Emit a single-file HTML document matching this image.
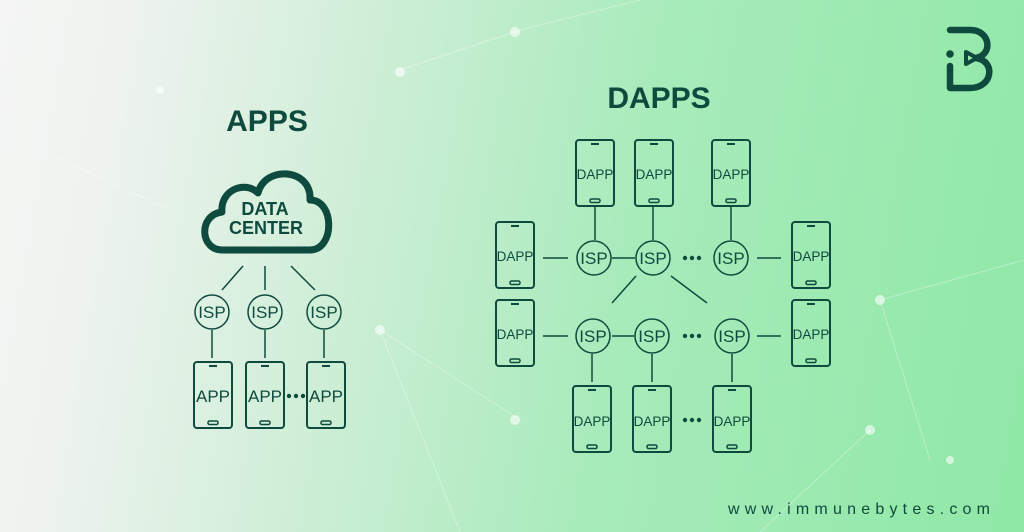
<!DOCTYPE html>
<html><head><meta charset="utf-8"><style>
html,body{margin:0;padding:0;width:1024px;height:532px;overflow:hidden}
body{background:linear-gradient(100deg,#f4f5f4 0%,#eef3ef 12%,#cdeed6 35%,#a8ebbb 60%,#8fe8a6 100%)}
svg{position:absolute;left:0;top:0}
text{font-family:"Liberation Sans",sans-serif;fill:#0f4a3e}
</style></head><body>
<svg width="1024" height="532" viewBox="0 0 1024 532">
<defs>
<g id="ph"><rect x="0" y="0" width="38" height="66" rx="3" fill="none" stroke="#0f4a3e" stroke-width="2"/><line x1="15" y1="4" x2="23" y2="4" stroke="#0f4a3e" stroke-width="2"/><rect x="14" y="59" width="10" height="3.5" rx="1.5" fill="none" stroke="#0f4a3e" stroke-width="1.5"/></g>
</defs>
<g stroke="#ffffff" stroke-opacity="0.35" stroke-width="1" fill="none">
<line x1="380" y1="330" x2="520" y2="420"/><line x1="380" y1="330" x2="460" y2="532"/><line x1="880" y1="300" x2="1024" y2="260"/><line x1="880" y1="300" x2="930" y2="460"/><line x1="520" y1="30" x2="640" y2="0"/><line x1="520" y1="30" x2="400" y2="70"/><line x1="870" y1="430" x2="760" y2="532"/><line x1="20" y1="140" x2="170" y2="210"/>
</g>
<g fill="#ffffff" fill-opacity="0.6"><circle cx="380" cy="330" r="5"/><circle cx="515" cy="32" r="5"/><circle cx="880" cy="300" r="5"/><circle cx="870" cy="430" r="5"/><circle cx="400" cy="72" r="5"/><circle cx="160" cy="90" r="4"/><circle cx="950" cy="460" r="4"/><circle cx="515" cy="420" r="5"/></g>
<text x="267" y="131" font-size="30" font-weight="bold" text-anchor="middle">APPS</text>
<text x="659" y="108" font-size="30" font-weight="bold" text-anchor="middle">DAPPS</text>
<path d="M222 250 C200 250 198 215 222 212 C220 190 245 180 258 193 C265 165 312 168 310 200 C335 200 335 250 310 250 Z" fill="none" stroke="#0f4a3e" stroke-width="7" stroke-linejoin="round"/>
<text x="265" y="215" font-size="18" font-weight="bold" text-anchor="middle">DATA</text>
<text x="266" y="234" font-size="18" font-weight="bold" text-anchor="middle">CENTER</text>
<g stroke="#0f4a3e" stroke-width="1.5" fill="none">
<line x1="243" y1="266" x2="222" y2="290"/><line x1="265" y1="266" x2="265" y2="290"/><line x1="291" y1="266" x2="315" y2="290"/>
<line x1="212" y1="330" x2="212" y2="358"/><line x1="265" y1="330" x2="265" y2="358"/><line x1="324" y1="330" x2="324" y2="358"/>
<circle cx="212" cy="312" r="17"/><circle cx="265" cy="312" r="17"/><circle cx="324" cy="312" r="17"/>
<circle cx="594" cy="258" r="17"/><circle cx="653" cy="258" r="17"/><circle cx="731" cy="258" r="17"/>
<circle cx="593" cy="336" r="17"/><circle cx="652" cy="336" r="17"/><circle cx="732" cy="336" r="17"/>
<line x1="595" y1="206" x2="595" y2="240"/><line x1="653" y1="206" x2="653" y2="240"/><line x1="731" y1="206" x2="731" y2="240"/>
<line x1="543" y1="258" x2="568" y2="258"/><line x1="612" y1="258" x2="635" y2="258"/><line x1="757" y1="258" x2="781" y2="258"/>
<line x1="636" y1="276" x2="612" y2="303"/><line x1="671" y1="276" x2="707" y2="303"/>
<line x1="543" y1="336" x2="568" y2="336"/><line x1="612" y1="336" x2="634" y2="336"/><line x1="757" y1="336" x2="781" y2="336"/>
<line x1="592" y1="354" x2="592" y2="382"/><line x1="652" y1="354" x2="652" y2="382"/><line x1="732" y1="354" x2="732" y2="382"/>
</g>
<g font-size="17" text-anchor="middle">
<text x="212" y="318">ISP</text><text x="265" y="318">ISP</text><text x="324" y="318">ISP</text>
<text x="594" y="264">ISP</text><text x="653" y="264">ISP</text><text x="731" y="264">ISP</text>
<text x="593" y="342">ISP</text><text x="652" y="342">ISP</text><text x="732" y="342">ISP</text>
</g>
<use href="#ph" x="194" y="362"/><use href="#ph" x="246" y="362"/><use href="#ph" x="307" y="362"/>
<g font-size="17" text-anchor="middle"><text x="213" y="402">APP</text><text x="265" y="402">APP</text><text x="326" y="402">APP</text></g>
<use href="#ph" x="576" y="140"/><use href="#ph" x="635" y="140"/><use href="#ph" x="712" y="140"/>
<use href="#ph" x="496" y="222"/><use href="#ph" x="496" y="300"/><use href="#ph" x="792" y="222"/><use href="#ph" x="792" y="300"/>
<use href="#ph" x="573" y="386"/><use href="#ph" x="633" y="386"/><use href="#ph" x="713" y="386"/>
<g font-size="13.5" text-anchor="middle">
<text x="595" y="179">DAPP</text><text x="654" y="179">DAPP</text><text x="731" y="179">DAPP</text>
<text x="515" y="261">DAPP</text><text x="515" y="339">DAPP</text><text x="811" y="261">DAPP</text><text x="811" y="339">DAPP</text>
<text x="592" y="426">DAPP</text><text x="652" y="426">DAPP</text><text x="732" y="426">DAPP</text>
</g>
<g fill="#0f4a3e">
<circle cx="289" cy="396" r="2.2"/><circle cx="296" cy="396" r="2.2"/><circle cx="303" cy="396" r="2.2"/>
<circle cx="685" cy="258" r="2.2"/><circle cx="692" cy="258" r="2.2"/><circle cx="699" cy="258" r="2.2"/>
<circle cx="685" cy="336" r="2.2"/><circle cx="692" cy="336" r="2.2"/><circle cx="699" cy="336" r="2.2"/>
<circle cx="685" cy="420" r="2.2"/><circle cx="692" cy="420" r="2.2"/><circle cx="699" cy="420" r="2.2"/>
</g>
<g fill="none" stroke="#0f4a3e" stroke-width="6.5" stroke-linecap="round" stroke-linejoin="round">
<path d="M950 30 L970 30 C991 30 993 55 976 58 C996 61 993 88 970 88 L950 88 L950 66"/>
<path d="M966 52 L977 58 L966 64 Z" stroke-width="4"/>
</g>
<circle cx="950" cy="54" r="3.8" fill="#0f4a3e"/>
<text x="728" y="514" font-size="16" textLength="262" lengthAdjust="spacing">www.immunebytes.com</text>
</svg>
</body></html>
